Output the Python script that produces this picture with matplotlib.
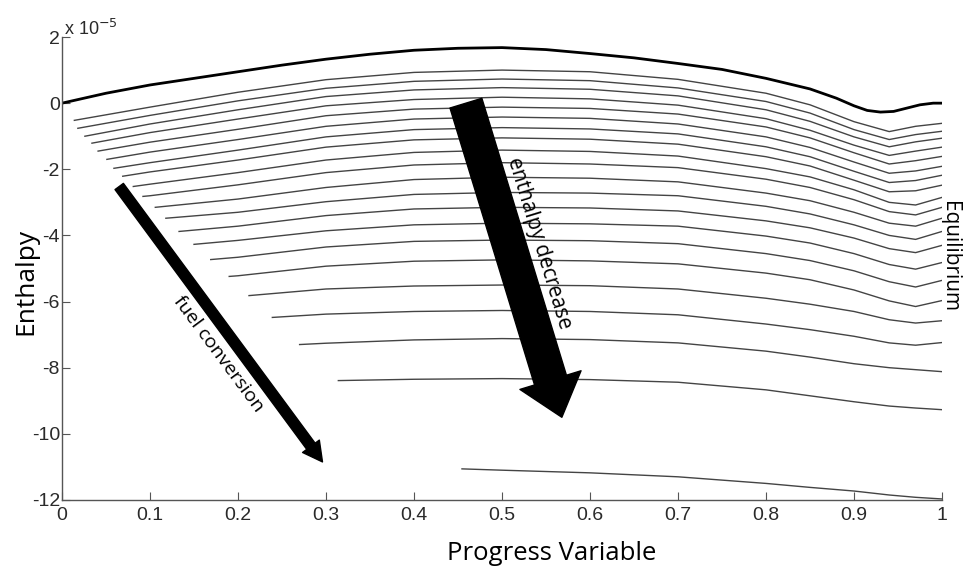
import numpy as np
import matplotlib
matplotlib.use("Agg")
import matplotlib.pyplot as plt
from matplotlib.patches import FancyArrowPatch

# progress variable grid where each flamelet is sampled
grid = [0.1, 0.2, 0.3, 0.4, 0.5, 0.6, 0.7, 0.8, 0.85, 0.9, 0.94, 0.97, 1.0]

# adiabatic flamelet (values in units of 1e-5)
adiab_x = [0.0, 0.05, 0.1, 0.15, 0.2, 0.25, 0.3, 0.35, 0.4, 0.45, 0.5, 0.55, 0.6,
           0.65, 0.7, 0.75, 0.8, 0.85, 0.88, 0.9, 0.915, 0.93, 0.945, 0.96, 0.975,
           0.99, 1.0]
adiab_h = [0.0, 0.3, 0.55, 0.75, 0.95, 1.15, 1.33, 1.48, 1.6, 1.66, 1.68, 1.62, 1.5,
           1.37, 1.2, 1.02, 0.75, 0.43, 0.15, -0.08, -0.22, -0.27, -0.25, -0.15,
           -0.05, 0.0, 0.0]

# non-adiabatic flamelets: first point, then values on the grid (nan = not reached)
start_x = [0.014, 0.018, 0.026, 0.034, 0.041, 0.051, 0.059, 0.069, 0.081, 0.092, 0.106,
           0.118, 0.133, 0.150, 0.169, 0.190, 0.2125, 0.239, 0.270, 0.314, 0.4545]
start_h = [-0.52, -0.76, -1.0, -1.21, -1.45, -1.70, -1.97, -2.21, -2.52, -2.82, -3.15,
           -3.48, -3.88, -4.27, -4.73, -5.24, -5.82, -6.48, -7.30, -8.39, -11.06]
nan = np.nan
flamelets = [
    [-0.12, 0.33, 0.71, 0.93, 1.0, 0.95, 0.72, 0.3, -0.05, -0.56, -0.86, -0.7, -0.61],
    [-0.37, 0.07, 0.45, 0.66, 0.73, 0.68, 0.46, 0.05, -0.3, -0.8, -1.1, -0.95, -0.85],
    [-0.63, -0.2, 0.2, 0.4, 0.47, 0.42, 0.22, -0.2, -0.55, -1.02, -1.32, -1.17, -1.06],
    [-0.89, -0.48, -0.08, 0.11, 0.18, 0.13, -0.06, -0.47, -0.82, -1.27, -1.58, -1.45, -1.33],
    [-1.18, -0.79, -0.38, -0.18, -0.12, -0.16, -0.33, -0.72, -1.05, -1.5, -1.84, -1.74, -1.61],
    [-1.48, -1.1, -0.7, -0.48, -0.42, -0.46, -0.63, -1.02, -1.34, -1.78, -2.12, -2.05, -1.91],
    [-1.8, -1.42, -1.02, -0.8, -0.74, -0.78, -0.93, -1.32, -1.62, -2.06, -2.4, -2.34, -2.18],
    [-2.08, -1.72, -1.33, -1.11, -1.05, -1.09, -1.24, -1.62, -1.9, -2.33, -2.68, -2.65, -2.48],
    [-2.45, -2.1, -1.72, -1.49, -1.42, -1.46, -1.6, -1.98, -2.23, -2.62, -3.0, -3.08, -2.85],
    [-2.8, -2.47, -2.1, -1.87, -1.8, -1.84, -1.95, -2.3, -2.55, -2.92, -3.28, -3.38, -3.15],
    [nan, -2.9, -2.55, -2.31, -2.24, -2.27, -2.38, -2.72, -2.95, -3.3, -3.63, -3.72, -3.48],
    [nan, -3.3, -2.98, -2.76, -2.7, -2.72, -2.8, -3.12, -3.35, -3.68, -4.0, -4.12, -3.88],
    [nan, -3.72, -3.4, -3.2, -3.15, -3.17, -3.26, -3.56, -3.77, -4.08, -4.4, -4.52, -4.3],
    [nan, -4.15, -3.86, -3.68, -3.63, -3.65, -3.72, -4.02, -4.23, -4.55, -4.88, -5.02, -4.82],
    [nan, -4.66, -4.35, -4.18, -4.14, -4.16, -4.25, -4.55, -4.76, -5.07, -5.4, -5.56, -5.36],
    [nan, -5.22, -4.93, -4.78, -4.74, -4.77, -4.86, -5.14, -5.34, -5.65, -5.98, -6.15, -5.97],
    [nan, nan, -5.62, -5.53, -5.5, -5.52, -5.62, -5.9, -6.08, -6.3, -6.55, -6.65, -6.58],
    [nan, nan, -6.38, -6.3, -6.27, -6.3, -6.4, -6.68, -6.85, -7.05, -7.25, -7.32, -7.24],
    [nan, nan, -7.26, -7.16, -7.12, -7.15, -7.25, -7.5, -7.68, -7.88, -8.0, -8.06, -8.12],
    [nan, nan, nan, -8.35, -8.33, -8.36, -8.44, -8.67, -8.85, -9.03, -9.16, -9.22, -9.27],
    [nan, nan, nan, nan, -11.1, -11.18, -11.3, -11.5, -11.62, -11.73, -11.85, -11.92, -11.97],
]

yticks = [2, 0, -2, -4, -6, -8, -10, -12]
xticks = [0, 0.1, 0.2, 0.3, 0.4, 0.5, 0.6, 0.7, 0.8, 0.9, 1]
xticklabels = ["0", "0.1", "0.2", "0.3", "0.4", "0.5", "0.6", "0.7", "0.8", "0.9", "1"]

fig = plt.figure(figsize=(9.63, 5.74), dpi=100)
ax = fig.add_axes([0.0644, 0.129, 0.9138, 0.8065])

for sx, sh, row in zip(start_x, start_h, flamelets):
    g = np.array(grid)
    r = np.array(row)
    keep = (g > sx) & ~np.isnan(r)
    xs = np.concatenate([[sx], g[keep]])
    hs = np.concatenate([[sh], r[keep]])
    ax.plot(xs, hs, color="#444444", lw=1.0)

ax.plot(adiab_x, adiab_h, color="black", lw=2.0)

ax.set_xlim(0, 1)
ax.set_ylim(-12, 2)
ax.set_xticks(xticks)
ax.set_xticklabels(xticklabels)
ax.set_yticks(yticks)
ax.set_yticklabels([str(t) for t in yticks])
for s in ["top", "right"]:
    ax.spines[s].set_visible(False)
for s in ["left", "bottom"]:
    ax.spines[s].set_color("#555555")
    ax.spines[s].set_linewidth(1.0)
ax.tick_params(direction="in", length=6, color="#555555", labelsize=14,
               labelcolor="#2a2a2a")
for lab in ax.get_xticklabels() + ax.get_yticklabels():
    lab.set_family("Liberation Sans")
ax.tick_params(axis="x", pad=5)
ax.tick_params(axis="y", pad=1.5)

ax.text(0.002, 2.07, r"x 10$^{-5}$", fontsize=13, family="Liberation Sans",
        color="#2a2a2a", va="baseline", ha="left")

ax.set_xlabel("Progress Variable", fontsize=18.5, family="Open Sans")
ax.xaxis.set_label_coords(0.557, -0.088)
ax.set_ylabel("Enthalpy", fontsize=19, family="Open Sans")
ax.yaxis.set_label_coords(-0.027, 0.473)

# fuel conversion arrow
fuel = FancyArrowPatch((0.065, -2.52), (0.296, -10.85), mutation_scale=1,
                       arrowstyle="simple,head_length=14,head_width=15,tail_width=7.5",
                       color="black", shrinkA=0, shrinkB=0, zorder=5)
ax.add_patch(fuel)
ax.text(0.178, -7.6, "fuel conversion", rotation=-53.5, rotation_mode="anchor",
        ha="center", va="center", fontsize=14, family="Open Sans")

# enthalpy decrease arrow
dec = FancyArrowPatch((0.459, 0.0), (0.568, -9.5), mutation_scale=1,
                      arrowstyle="simple,head_length=28,head_width=46,tail_width=24",
                      color="black", shrinkA=0, shrinkB=0, zorder=5)
ax.add_patch(dec)
ax.text(0.542, -4.25, "enthalpy decrease", rotation=-73, rotation_mode="anchor",
        ha="center", va="center", fontsize=15, family="Open Sans")

ax.text(1.0085, -4.64, "Equilibrium", rotation=-90, ha="center", va="center",
        fontsize=15, family="Open Sans", clip_on=False)

fig.savefig("out.png", dpi=100)
